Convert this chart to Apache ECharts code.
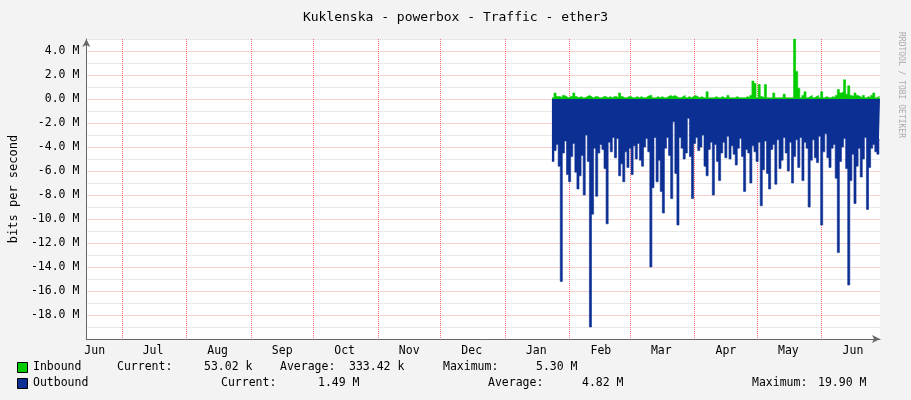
<!DOCTYPE html>
<html><head><meta charset="utf-8">
<script src="https://cdn.jsdelivr.net/npm/echarts@6/dist/echarts.min.js"></script>
<style>html,body{margin:0;padding:0;background:#f3f3f3}#c{width:911px;height:400px}</style>
</head><body><div id="c"></div>
<script>
var startDate = '2023-06-14', endDate = '2024-06-29', dataStart = '2024-01-24';
var monthNames = ['Jan','Feb','Mar','Apr','May','Jun','Jul','Aug','Sep','Oct','Nov','Dec'];
var yTickLabels = ['4.0 M','2.0 M','0.0 M','-2.0 M','-4.0 M','-6.0 M','-8.0 M','-10.0 M','-12.0 M','-14.0 M','-16.0 M','-18.0 M'];
// Inbound, Mbit/s, daily from 2024-01-24
var inbound = [0.1,0.5,0.2,0.2,0.1,0.3,0.2,0.1,0.2,0.2,0.5,0.2,0.1,0.2,0.1,0.1,0.2,0.3,0.2,0.1,0.2,0.2,0.1,0.1,0.2,0.2,0.1,0.2,0.1,0.2,0.2,0.1,0.5,0.2,0.1,0.1,0.2,0.2,0.1,0.1,0.2,0.1,0.2,0.1,0.1,0.2,0.3,0.3,0.1,0.1,0.2,0.1,0.2,0.1,0.1,0.2,0.3,0.2,0.3,0.2,0.1,0.1,0.2,0.3,0.1,0.2,0.1,0.2,0.3,0.2,0.1,0.2,0.1,0.1,0.6,0.1,0.1,0.1,0.2,0.1,0.1,0.2,0.1,0.1,0.3,0.1,0.1,0.1,0.2,0.1,0.1,0.1,0.1,0.2,0.1,0.3,1.5,1.3,0.1,1.2,0.2,0.1,1.2,0.1,0.1,0.1,0.5,0.1,0.1,0.1,0.1,0.4,0.1,0.1,0.1,0.1,5.0,2.3,0.9,0.1,0.3,0.6,0.1,0.2,0.3,0.1,0.2,0.3,0.1,0.6,0.1,0.2,0.1,0.1,0.2,0.1,0.3,0.8,0.5,0.6,1.6,0.4,1.1,0.3,0.2,0.5,0.3,0.2,0.1,0.3,0.1,0.2,0.1,0.3,0.5,0.1,0.2,0.2];
var outbound = [-5.2,-4.3,-3.8,-5.6,-15.2,-4.5,-3.5,-6.3,-6.9,-4.8,-3.7,-6.1,-7.5,-6.4,-4.7,-8.0,-3.0,-5.2,-19.0,-9.6,-4.1,-8.1,-4.5,-3.8,-4.2,-5.8,-10.4,-3.6,-4.4,-3.2,-4.9,-3.3,-6.4,-5.4,-6.9,-4.4,-5.7,-4.1,-6.3,-3.9,-5.0,-3.7,-5.1,-5.6,-4.0,-3.3,-4.4,-14.0,-7.4,-3.2,-6.9,-5.1,-7.7,-9.5,-4.1,-3.2,-4.7,-8.3,-1.9,-6.2,-10.5,-3.2,-4.1,-5.0,-4.5,-1.6,-4.8,-8.3,-3.7,-3.2,-4.3,-4.0,-3.0,-5.6,-6.4,-4.2,-3.6,-8.0,-3.8,-5.2,-6.8,-4.5,-3.6,-4.9,-3.1,-5.0,-3.9,-4.6,-5.5,-4.1,-3.3,-4.8,-7.7,-4.2,-4.5,-7.0,-3.9,-4.4,-5.2,-3.6,-8.9,-5.9,-3.5,-6.2,-7.5,-4.2,-3.8,-7.1,-3.4,-5.8,-5.1,-3.2,-4.5,-6.0,-3.6,-7.0,-4.8,-3.4,-5.7,-3.2,-6.8,-3.6,-4.1,-9.0,-5.1,-3.4,-4.9,-5.3,-3.1,-10.5,-4.4,-2.9,-4.9,-5.7,-4.1,-3.8,-6.6,-12.8,-5.2,-4.0,-3.3,-5.8,-15.5,-6.8,-4.6,-8.7,-5.6,-4.1,-6.5,-5.0,-3.2,-9.2,-5.7,-4.1,-3.8,-4.4,-4.6,-3.4,-4.0,-3.3];

var cats = [];
var d = new Date(startDate + 'T00:00:00Z'), e = new Date(endDate + 'T00:00:00Z');
while (d <= e) { cats.push(d.toISOString().slice(0,10)); d = new Date(d.getTime() + 86400000); }
var off = cats.indexOf(dataStart);
var inData = cats.map(function(c,i){ var k=i-off; return (k>=0 && k<inbound.length)? inbound[k] : null; });
var outData = cats.map(function(c,i){ var k=i-off; return (k>=0 && k<outbound.length)? outbound[k] : null; });

function isLabelDay(i, v){ return v.slice(8)==='16' || (i===4); }
var mono = 'DejaVu Sans Mono';
var chart = echarts.init(document.getElementById('c'));
function txt(x,y,s){ return {type:'text', left:x, top:y, style:{text:s, font:'11.5px "DejaVu Sans Mono"', fill:'#000'}}; }
chart.setOption({
  backgroundColor:'#f3f3f3',
  animation:false,
  title:{text:'Kuklenska - powerbox - Traffic - ether3', left:'center', top:6,
    textStyle:{fontFamily:mono, fontSize:13, fontWeight:'normal', color:'#000'}},
  grid:{left:80, right:31, top:39, bottom:61, backgroundColor:'#fff', show:true, borderWidth:0},
  xAxis:{type:'category', data:cats, boundaryGap:false,
    axisLine:{onZero:false, lineStyle:{color:'#666'}, symbol:['none','arrow'], symbolSize:[6,8]},
    axisTick:{show:false},
    axisLabel:{interval:function(i,v){return isLabelDay(i,v);}, formatter:function(v){return monthNames[parseInt(v.slice(5,7),10)-1];},
      fontFamily:mono, fontSize:11.5, color:'#000', margin:6},
    splitLine:{show:true, interval:function(i,v){return v.slice(8)==='01';}, lineStyle:{color:'#ff7070', type:'dotted', width:1}}
  },
  yAxis:{type:'value', min:-20, max:5, interval:1,
    name:'bits per second', nameLocation:'middle', nameGap:66, nameRotate:90,
    nameTextStyle:{fontFamily:mono, fontSize:12, color:'#000'},
    axisLine:{show:true, lineStyle:{color:'#666'}, symbol:['none','arrow'], symbolSize:[6,8]},
    axisTick:{show:false},
    axisLabel:{fontFamily:mono, fontSize:11.5, color:'#000', margin:7,
      formatter:function(v){ var s=(v.toFixed(1)+' M'); return (v%2===0 && v>-20 && yTickLabels.indexOf(s)>=0)? s : ''; }},
    splitLine:{lineStyle:{color:['#f0a0a0','#d0d0d0'], type:'dotted', width:1}}
  },
  series:[
    {name:'Outbound', type:'line', data:outData, showSymbol:false, step:'middle',
      lineStyle:{width:0.6, color:'#0b2f93'}, areaStyle:{color:'#0b2f93', opacity:1}, z:2},
    {name:'Inbound', type:'line', data:inData, showSymbol:false, step:'middle',
      lineStyle:{width:0.6, color:'#00cc00'}, areaStyle:{color:'#00cc00', opacity:1}, z:3}
  ],
  graphic:[
    {type:'rect', left:17, top:362, shape:{width:10,height:10}, style:{fill:'#00cc00', stroke:'#000', lineWidth:1}},
    {type:'rect', left:17, top:378, shape:{width:10,height:10}, style:{fill:'#0b2f93', stroke:'#000', lineWidth:1}},
    txt(33,361,'Inbound'), txt(117,361,'Current:'), txt(204,361,'53.02 k'), txt(280,361,'Average:'),
    txt(349,361,'333.42 k'), txt(443,361,'Maximum:'), txt(536,361,'5.30 M'),
    txt(33,377,'Outbound'), txt(221,377,'Current:'), txt(318,377,'1.49 M'), txt(488,377,'Average:'),
    txt(582,377,'4.82 M'), txt(752,377,'Maximum:'), txt(818,377,'19.90 M'),
    {type:'text', left:897, top:32, rotation:-Math.PI/2, style:{text:'RRDTOOL / TOBI OETIKER', font:'8px "DejaVu Sans Mono"', fill:'#aaa'}}
  ]
});
</script></body></html>
